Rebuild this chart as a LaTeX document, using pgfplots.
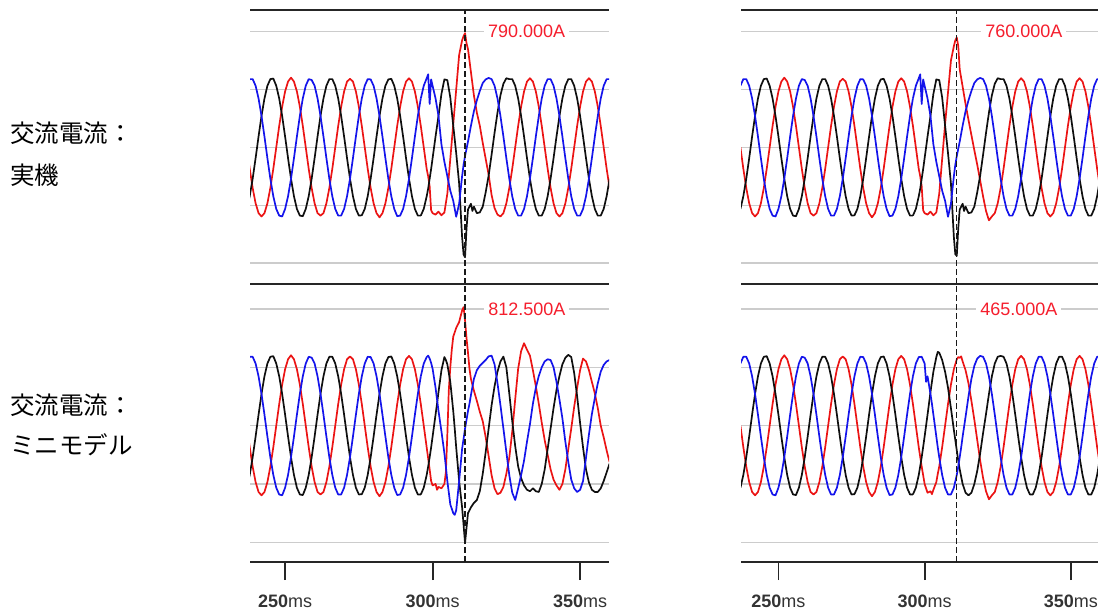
\documentclass[border=0pt]{standalone}
\usepackage{fontspec}
\setmainfont{Liberation Sans}
\newfontfamily\jpfont{Noto Sans CJK JP}
\usepackage{pgfplots}
\usepackage{pgfplotstable}
\pgfplotsset{compat=1.18}

\definecolor{phR}{RGB}{235,20,20}
\definecolor{phB}{RGB}{20,20,235}
\definecolor{phK}{RGB}{15,15,15}
\definecolor{curlab}{RGB}{245,30,45}

% three phase currents (A) before the event, shared by all panels
\pgfplotstableread{
t r b k
237 0 426 -426
238 -148 472 -338
239 -281 472 -217
240 -387 426 -75
241 -455 338 75
242 -478 217 217
243 -455 75 338
244 -387 -75 426
245 -281 -217 472
246 -148 -338 476
247 0 -426 426
248 148 -472 338
249 281 -478 217
250 387 -426 75
251 455 -338 -75
252 482 -217 -217
253 455 -75 -338
254 387 75 -426
255 281 217 -472
256 148 338 -476
257 0 426 -426
258 -148 472 -338
259 -281 466 -217
260 -387 426 -75
261 -455 338 75
262 -472 217 217
263 -455 75 338
264 -387 -75 426
265 -281 -217 472
266 -148 -338 472
267 0 -426 426
268 148 -472 338
269 281 -472 217
270 387 -426 75
271 455 -338 -75
272 474 -217 -217
273 455 -75 -338
274 387 75 -426
275 281 217 -472
276 148 338 -470
277 0 426 -426
278 -148 472 -338
279 -281 470 -217
280 -387 426 -75
281 -455 338 75
282 -484 217 217
283 -455 75 338
284 -387 -75 426
285 -281 -217 470
286 -148 -338 474
287 0 -426 426
288 148 -476 338
289 281 -472 217
290 387 -426 75
291 455 -338 -75
292 478 -217 -217
293 455 -75 -338
294 387 75 -426
295 281 217 -472
296 148 338 -472
}\pre

% 実機, left
\pgfplotstableread{
t r b k
296 148 338 -472
297 0 426 -426
298 -150 478 -338
298.5 -200 505 -285
299 -270 300 -217
299.5 -435 470 -150
300 -455 426 -75
301 -465 338 75
302 -445 217 217
303 -470 20 370
304 -450 -100 470
305 -320 -200 465
306 -80 -300 345
307 160 -370 150
308 400 -480 -40
309 640 -390 -250
310 740 -200 -620
310.5 770 -120 -740
311 790 -60 -760
311.5 720 -10 -560
312 680 40 -430
313 520 150 -390
313.5 440 200 -440
314 360 250 -410
315 240 325 -455
316 150 390 -450
317 30 445 -410
318 -80 470 -310
319 -190 480 -195
320 -330 472 -50
321 -420 426 100
322 -465 338 240
323 -478 217 360
324 -455 75 440
325 -387 -75 478
326 -281 -217 472
327 -148 -338 472
328 0 -426 426
329 148 -472 338
330 281 -472 217
331 387 -426 75
332 455 -338 -75
333 478 -217 -217
334 455 -75 -338
335 387 75 -426
336 281 217 -472
337 148 338 -472
338 0 426 -426
339 -148 472 -338
340 -281 472 -217
341 -387 426 -75
342 -455 338 75
343 -478 217 217
344 -455 75 338
345 -387 -75 426
346 -281 -217 472
347 -148 -338 472
348 0 -426 426
349 148 -472 338
350 281 -472 217
351 387 -426 75
352 455 -338 -75
353 478 -217 -217
354 455 -75 -338
355 387 75 -426
356 281 217 -472
357 148 338 -472
358 0 426 -426
359 -148 472 -338
360 -281 472 -217
}\postA

% 実機, right
\pgfplotstableread{
t r b k
296 148 338 -472
297 0 426 -426
298 -150 478 -338
298.5 -200 505 -285
299 -270 300 -217
299.5 -435 470 -150
300 -455 426 -75
301 -465 338 75
302 -445 217 217
303 -470 20 370
304 -450 -100 470
305 -320 -200 465
306 -80 -300 345
307 160 -370 150
308 380 -480 -40
309 600 -390 -250
310 700 -200 -620
310.5 740 -120 -740
311 760 -60 -750
311.5 700 -10 -560
312 540 40 -430
313 420 150 -390
313.5 360 200 -440
314 300 250 -410
315 190 325 -455
316 85 390 -450
317 -20 445 -410
318 -120 470 -310
319 -230 480 -195
320 -340 472 -50
321 -440 426 100
322 -505 338 240
323 -478 217 360
324 -455 75 440
325 -387 -75 478
326 -281 -217 472
327 -148 -338 472
328 0 -426 426
329 148 -472 338
330 281 -472 217
331 387 -426 75
332 455 -338 -75
333 478 -217 -217
334 455 -75 -338
335 387 75 -426
336 281 217 -472
337 148 338 -472
338 0 426 -426
339 -148 472 -338
340 -281 472 -217
341 -387 426 -75
342 -455 338 75
343 -478 217 217
344 -455 75 338
345 -387 -75 426
346 -281 -217 472
347 -148 -338 472
348 0 -426 426
349 148 -472 338
350 281 -472 217
351 387 -426 75
352 455 -338 -75
353 478 -217 -217
354 455 -75 -338
355 387 75 -426
356 281 217 -472
357 148 338 -472
358 0 426 -426
359 -148 472 -338
360 -281 472 -217
}\postB

% ミニモデル, left
\pgfplotstableread{
t r b k
296 148 338 -472
297 0 426 -426
298 -150 470 -338
298.5 -225 480 -280
299 -300 460 -217
299.5 -380 430 -150
300 -410 390 -75
301 -400 260 75
301.5 -440 180 150
302 -420 100 230
303 -430 -40 380
304 -400 -190 470
304.5 -320 -280 450
305 -60 -380 420
305.5 245 -460 360
306 400 -540 300
306.5 520 -570 200
307 610 -600 100
307.5 640 -612 -20
308 670 -580 -150
309 710 -380 -380
310 790 -160 -560
310.5 812 -90 -680
311 720 -20 -805
311.5 600 40 -700
312 500 100 -600
312.5 390 150 -580
313 320 210 -560
314 240 320 -530
315 170 380 -510
316 95 410 -450
317 30 430 -330
318 -80 450 -180
319 -210 475 -20
320 -340 480 140
321 -430 420 270
322 -470 290 370
323 -460 140 440
324 -420 -20 473
325 -330 -180 400
326 -220 -340 220
327 -40 -460 30
328 180 -510 -140
329 390 -430 -280
330 510 -340 -360
331 565 -240 -410
332 520 -110 -440
333 480 10 -450
334 380 150 -430
335 270 260 -450
336 150 340 -455
337 20 400 -400
338 -100 440 -300
339 -200 455 -160
340 -300 450 -20
341 -370 400 120
342 -410 300 245
343 -440 180 340
344 -400 50 420
345 -300 -110 465
346 -160 -250 485
347 -20 -370 470
348 130 -430 360
349 260 -455 200
350 380 -440 18
351 460 -380 -150
352 440 -220 -300
353 380 -60 -390
354 300 80 -440
355 220 190 -455
356 120 290 -455
357 0 370 -430
358 -80 416 -380
359 -170 440 -320
360 -250 450 -260
}\postC

% ミニモデル, right
\pgfplotstableread{
t r b k
296 148 338 -472
297 0 426 -426
298 -150 470 -338
299 -281 472 -217
300 -400 426 -75
300.5 -430 300 0
301 -460 338 75
302 -450 217 230
302.5 -470 150 300
303 -440 75 370
304 -387 -75 470
304.5 -330 -150 505
305 -281 -217 500
306 -148 -338 450
307 0 -426 370
308 148 -472 260
309 281 -472 120
310 387 -426 -30
311 455 -338 -170
311.5 470 -280 -240
312 465 -217 -300
312.5 475 -150 -350
313 440 -75 -400
314 380 60 -460
315 290 200 -478
316 170 320 -460
317 40 410 -400
318 -100 460 -310
319 -240 478 -190
320 -360 472 -50
321 -450 426 80
322 -505 338 217
323 -478 217 338
324 -455 75 426
325 -387 -75 472
326 -281 -217 478
327 -148 -338 472
328 0 -426 426
329 148 -472 338
330 281 -472 217
331 387 -426 75
332 455 -338 -75
333 478 -217 -217
334 455 -75 -338
335 387 75 -426
336 281 217 -472
337 148 338 -472
338 0 426 -426
339 -148 472 -338
340 -281 472 -217
341 -387 426 -75
342 -455 338 75
343 -478 217 217
344 -455 75 338
345 -387 -75 426
346 -281 -217 472
347 -148 -338 472
348 0 -426 426
349 148 -472 338
350 281 -472 217
351 387 -426 75
352 455 -338 -75
353 478 -217 -217
354 455 -75 -338
355 387 75 -426
356 281 217 -472
357 148 338 -472
358 0 426 -426
359 -148 472 -338
360 -281 472 -217
}\postD

\pgfplotsset{
  wave/.style={
    scale only axis,
    separate axis lines,
    y axis line style={draw=none},
    x axis line style={line width=1.8pt, draw=black!85},
    ytick={-800,-400,0,400,800},
    yticklabels={,,,,},
    yticklabel style={opacity=0},
    ytick style={draw=none},
    ymajorgrids,
    grid style={line width=1.2pt, draw=black!20},
    xtick=\empty,
    every axis plot/.append style={line width=1.7pt, line join=round, no markers},
  },
  timeaxis/.style={
    xtick={250,300,350},
    xticklabels={\textbf{250}ms,\textbf{300}ms,\textbf{350}ms},
    xtick pos=left,
    xtick align=outside,
    major tick length=18pt,
    xtick style={line width=1.8pt, draw=black!85},
    xticklabel style={font=\fontsize{18}{18}\selectfont, text=black!80, yshift=-11pt},
  },
}
\tikzset{
  cursorlab/.style={anchor=west, fill=white, inner xsep=4pt, inner ysep=2pt,
    text=curlab, font=\fontsize{18}{18}\selectfont},
  cursor/.style={line width=1.7pt, dash pattern=on 6pt off 3pt, draw=black!90},
  rowlab/.style={anchor=west, inner sep=0pt, font=\jpfont\fontsize{24.5}{24.5}\selectfont},
}

\begin{document}
\begin{tikzpicture}
\path[use as bounding box] (0,0) rectangle (1098pt,611pt);

% row labels
\node[rowlab] at (10pt,478pt) {交流電流：};
\node[rowlab] at (10pt,436pt) {実機};
\node[rowlab] at (10pt,206pt) {交流電流：};
\node[rowlab] at (10pt,166pt) {ミニモデル};

% top left
\begin{axis}[wave, at={(250pt,327pt)}, anchor=south west,
  width=359pt, height=274pt, xmin=238.1, xmax=359.8, ymin=-945, ymax=950]
  \addplot[phR] table[x=t,y=r] {\pre};
  \addplot[phR] table[x=t,y=r] {\postA};
  \addplot[phK] table[x=t,y=k] {\pre};
  \addplot[phK] table[x=t,y=k] {\postA};
  \addplot[phB] table[x=t,y=b] {\pre};
  \addplot[phB] table[x=t,y=b] {\postA};
  \draw[cursor] (axis cs:311,-945) -- (axis cs:311,950);
  \node[cursorlab] at (axis cs:317.4,800) {790.000A};
\end{axis}

% top right
\begin{axis}[wave, at={(741pt,327pt)}, anchor=south west,
  width=357pt, height=274pt, xmin=237.2, xmax=359.3, ymin=-945, ymax=950]
  \addplot[phR] table[x=t,y=r] {\pre};
  \addplot[phR] table[x=t,y=r] {\postB};
  \addplot[phK] table[x=t,y=k] {\pre};
  \addplot[phK] table[x=t,y=k] {\postB};
  \addplot[phB] table[x=t,y=b] {\pre};
  \addplot[phB] table[x=t,y=b] {\postB};
  \draw[cursor] (axis cs:310.9,-945) -- (axis cs:310.9,950);
  \node[cursorlab] at (axis cs:319.3,800) {760.000A};
\end{axis}

% bottom left
\begin{axis}[wave, timeaxis, at={(250pt,49pt)}, anchor=south west,
  width=359pt, height=278pt, xmin=238.1, xmax=359.8, ymin=-935, ymax=971]
  \addplot[phR] table[x=t,y=r] {\pre};
  \addplot[phR] table[x=t,y=r] {\postC};
  \addplot[phK] table[x=t,y=k] {\pre};
  \addplot[phK] table[x=t,y=k] {\postC};
  \addplot[phB] table[x=t,y=b] {\pre};
  \addplot[phB] table[x=t,y=b] {\postC};
  \draw[cursor] (axis cs:311,-935) -- (axis cs:311,971);
  \node[cursorlab] at (axis cs:317.5,800) {812.500A};
\end{axis}

% bottom right
\begin{axis}[wave, timeaxis, at={(741pt,49pt)}, anchor=south west,
  width=357pt, height=278pt, xmin=237.2, xmax=359.3, ymin=-935, ymax=971]
  \addplot[phR] table[x=t,y=r] {\pre};
  \addplot[phR] table[x=t,y=r] {\postD};
  \addplot[phK] table[x=t,y=k] {\pre};
  \addplot[phK] table[x=t,y=k] {\postD};
  \addplot[phB] table[x=t,y=b] {\pre};
  \addplot[phB] table[x=t,y=b] {\postD};
  \draw[cursor] (axis cs:310.9,-935) -- (axis cs:310.9,971);
  \node[cursorlab] at (axis cs:317.6,800) {465.000A};
\end{axis}
\end{tikzpicture}
\end{document}
